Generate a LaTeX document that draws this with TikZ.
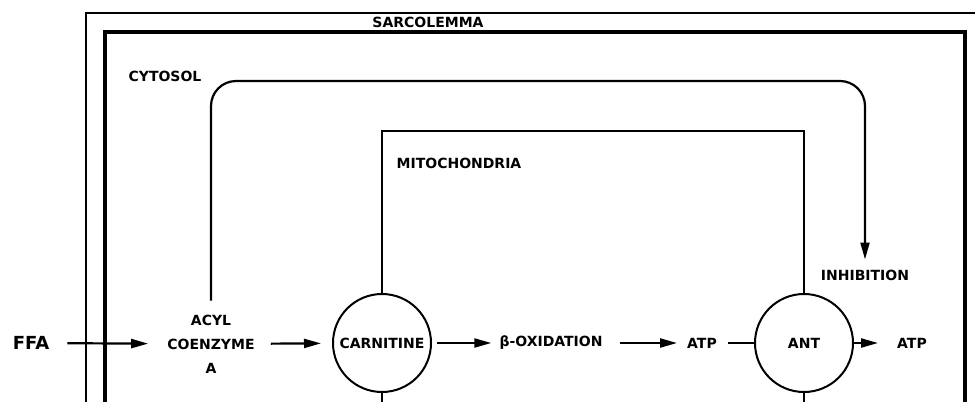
\documentclass[tikz,border=0pt]{standalone}
\usepackage{fontspec}
\setmainfont{DejaVu Sans}
\usetikzlibrary{arrows.meta}
\begin{document}
\begin{tikzpicture}[x=1pt,y=-1pt,
  lbl/.style={inner sep=0pt,font=\bfseries\fontsize{14}{24}\selectfont,align=center},
  enzyme/.style={lbl,draw,circle,line width=2pt,minimum size=98pt},
  flow/.style={line width=2.2pt,-{Triangle[length=17pt,width=9pt]}},
  inhibit/.style={line width=2.2pt,rounded corners=25pt,-{Triangle[length=17pt,width=9pt]}},
  mito/.style={line width=1.8pt}]
\useasboundingbox (0,0) rectangle (975,402);
\draw[line width=2.2pt] (86,402) |- (975,13);
\draw[line width=3.8pt] (105,402) |- (965,32) -- (965,402);
\node[lbl] (sarco) at (428,22.5) {SARCOLEMMA};
\node[lbl] (cytosol) at (165,76) {CYTOSOL};
\node[lbl] (mitolbl) at (459,163) {MITOCHONDRIA};
\node[lbl,font=\bfseries\fontsize{18}{20}\selectfont] (ffa) at (31,343) {FFA};
\node[lbl] (acyl) at (211,344) {ACYL\\COENZYME\\A};
\node[enzyme] (carn) at (382,343) {CARNITINE};
\node[lbl] (betaox) at (551,343) {β-OXIDATION};
\node[lbl] (atpa) at (702,343) {ATP};
\node[enzyme] (ant) at (804,343) {ANT};
\node[lbl] (atpb) at (912,343) {ATP};
\node[lbl] (inhib) at (865,275) {INHIBITION};
\draw[mito] (carn.north) -- (carn.north |- 0,131) -- (ant.north |- 0,131) -- (ant.north);
\draw[mito] (carn.south) -- (carn.south |- 0,402);
\draw[mito] (ant.south) -- (ant.south |- 0,402);
\draw[inhibit,shorten <=14pt,shorten >=10pt] (acyl.north) -- (acyl.north |- 0,81) -- (inhib.north |- 0,81) -- (inhib.north);
\draw[flow,shorten <=18pt,shorten >=19pt] (ffa) -- (acyl);
\draw[flow,shorten <=16pt,shorten >=11pt] (acyl) -- (carn);
\draw[flow,shorten <=5pt,shorten >=8pt] (carn) -- (betaox);
\draw[flow,shorten <=17pt,shorten >=10pt] (betaox) -- (atpa);
\draw[line width=2.2pt,shorten <=11pt] (atpa) -- (ant);
\draw[flow,shorten >=19pt] (ant) -- (atpb);
\end{tikzpicture}
\end{document}
